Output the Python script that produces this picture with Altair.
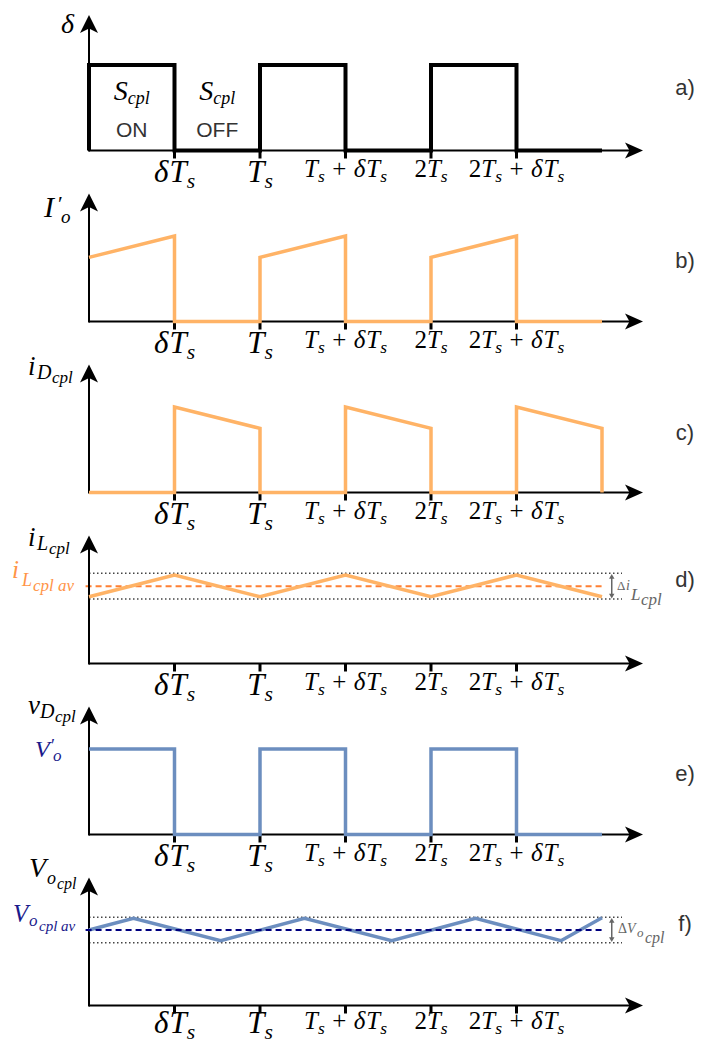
import altair as alt
import pandas as pd

# ---------------- data ----------------
tick_t = [0.5, 1.0, 1.5, 2.0, 2.5]
tick_text = ["δT_s", "T_s", "T_s + δT_s", "2T_s", "2T_s + δT_s"]
tick_big = [True, True, False, False, False]

delta_t = [0, 0, 0.5, 0.5, 1, 1, 1.5, 1.5, 2, 2, 2.5, 2.5, 3]
delta_v = [0, 1, 1, 0, 0, 1, 1, 0, 0, 1, 1, 0, 0]

io_t = [0, 0.5, 0.5, 1, 1, 1.5, 1.5, 2, 2, 2.5, 2.5, 3]
io_v = [0.75, 1, 0, 0, 0.75, 1, 0, 0, 0.75, 1, 0, 0]

id_t = [0, 0.5, 0.5, 1, 1, 1.5, 1.5, 2, 2, 2.5, 2.5, 3, 3]
id_v = [0, 0, 1, 0.75, 0, 0, 1, 0.75, 0, 0, 1, 0.75, 0]

il_t = [0, 0.5, 1, 1.5, 2, 2.5, 3]
il_v = [0.78, 1.035, 0.78, 1.035, 0.78, 1.035, 0.78]
il_avg = 0.903
il_band = [0.754, 1.055]

vd_t = [0, 0.5, 0.5, 1, 1, 1.5, 1.5, 2, 2, 2.5, 2.5, 3]
vd_v = [1, 1, 0, 0, 1, 1, 0, 0, 1, 1, 0, 0]

vo_t = [0, 0.26, 0.77, 1.26, 1.77, 2.26, 2.76, 3.0]
vo_v = [0.883, 1.02, 0.758, 1.02, 0.758, 1.02, 0.758, 1.027]
vo_avg = 0.883
vo_band = [0.734, 1.032]

panel_tags = ["a)", "b)", "c)", "d)", "e)", "f)"]

# ---------------- layout ----------------
W, H = 692, 171
H_LAST = 181
PX_T, PX_V = 171.0, 85.5
ORIGIN_X = 81.0
BASE_Y = 142.5
XDOM = [-ORIGIN_X / PX_T, (W - ORIGIN_X) / PX_T]
X_TIP = (643 - 89) / PX_T
TAG_T = (685 - 89) / PX_T

xs = alt.Scale(domain=XDOM, nice=False, zero=False)
X = alt.X("t:Q", scale=xs, axis=None)


def y_enc(h):
    dom = [-(h - BASE_Y) / PX_V, BASE_Y / PX_V]
    return alt.Y("v:Q", scale=alt.Scale(domain=dom, nice=False, zero=False), axis=None)


cur = {"Y": y_enc(H)}

ORANGE = "#FFB366"
ORANGE_D = "#FF8033"
ORANGE_L = "#FF9447"
BLUE = "#6C8EBF"
NAVY = "#1A1A8C"
GRAY = "#666666"
DARK = "#333333"

UP_PATH = "M0,-1 L1,1 L0,0.5 L-1,1 Z"
RIGHT_PATH = "M1,0 L-1,-0.9 L-0.5,0 L-1,0.9 Z"

W_SERIF = {"T": 0.556, "s": 0.389, "δ": 0.5, "2": 0.5, "+": 0.564, " ": 0.25,
           "c": 0.444, "p": 0.5, "l": 0.278, "a": 0.5, "v": 0.444, "i": 0.278,
           "D": 0.722, "L": 0.556, "o": 0.5, "V": 0.611, "I": 0.333, "S": 0.5,
           "Δ": 0.612, "′": 0.25}
W_SANS = {"a": 0.556, "b": 0.556, "c": 0.5, "d": 0.556, "e": 0.556, "f": 0.278,
          ")": 0.333, "O": 0.778, "N": 0.722, "F": 0.611}

KINDS = {"mi": dict(font="Liberation Serif", fontStyle="italic"),
         "mr": dict(font="Liberation Serif"),
         "sans": dict(font="Liberation Sans")}


def width(text, size, kind):
    table = W_SANS if kind == "sans" else W_SERIF
    return sum(table.get(c, 0.5) for c in text) * size


def put(rows, dx, up, text, size, color, kind="mi", t0=0.0):
    rows.append(dict(t=t0 + dx / PX_T, v=up / PX_V, text=text, size=size,
                     color=color, kind=kind))


def centered(rows, t_c, up, pieces, color):
    widths = [p[1] if p[2] is None else width(p[0], p[1], p[2]) for p in pieces]
    x = -sum(widths) / 2
    for p, w in zip(pieces, widths):
        if p[2] is not None:
            rows.append(dict(t=t_c + x / PX_T, v=(up - p[3]) / PX_V, text=p[0],
                             size=p[1], color=color, kind=p[2]))
        x += w


def tick_label_pieces(label, size):
    out = []
    i = 0
    while i < len(label):
        c = label[i]
        if c == "_":
            out.append((label[i + 1], size * 0.7, "mi", size * 0.2))
            i += 2
            continue
        if c == " ":
            out.append(("", size * 0.3, None, 0))
        elif c in "0123456789+":
            out.append((c, size, "mr", 0))
        else:
            out.append((c, size, "mi", 0))
        i += 1
    return out


def line_layer(ts, vs, color, w, dash=None):
    df = pd.DataFrame({"t": ts, "v": vs, "i": list(range(len(ts)))})
    kw = dict(color=color, strokeWidth=w, strokeCap="butt", strokeJoin="miter")
    if dash:
        kw["strokeDash"] = dash
    return alt.Chart(df).mark_line(**kw).encode(x=X, y=cur["Y"], order=alt.Order("i:Q"))


def seg_layer(rows, color, w, dash=None):
    df = pd.DataFrame(rows, columns=["t", "v", "t2", "v2"])
    kw = dict(color=color, strokeWidth=w, strokeCap="butt")
    if dash:
        kw["strokeDash"] = dash
    return alt.Chart(df).mark_rule(**kw).encode(x=X, y=cur["Y"], x2="t2:Q", y2="v2:Q")


def head_layer(rows, shape, size, color):
    df = pd.DataFrame(rows, columns=["t", "v"])
    return alt.Chart(df).mark_point(shape=shape, size=size, filled=True, color=color,
                                    opacity=1, strokeWidth=0).encode(x=X, y=cur["Y"])


def text_layers(rows):
    df = pd.DataFrame(rows)
    layers = []
    for kind, props in KINDS.items():
        sub = df[df.kind == kind]
        if len(sub) == 0:
            continue
        layers.append(alt.Chart(sub).mark_text(align="left", baseline="alphabetic", **props).encode(
            x=X, y=cur["Y"], text="text:N",
            size=alt.Size("size:Q", scale=None, legend=None),
            color=alt.Color("color:N", scale=None, legend=None)))
    return layers


def delta_arrow(t, lo, hi):
    return [seg_layer([(t, lo + 4 / PX_V, t, hi - 4 / PX_V)], GRAY, 1.5),
            head_layer([(t, hi - 3 / PX_V)], "triangle-up", 30, GRAY),
            head_layer([(t, lo + 3 / PX_V)], "triangle-down", 30, GRAY)]


def band_layer(band):
    return seg_layer([(0, band[0], 3.117, band[0]), (0, band[1], 3.117, band[1])],
                     "#444444", 1.4, [1.5, 2.5])


def panel(idx, make_signal, rows, tip_up, tag_up, make_under=None, make_over=None,
          h=H, lab_big=-31, lab_small=-26):
    cur["Y"] = y_enc(h)
    rows = list(rows)
    for t, lab, big in zip(tick_t, tick_text, tick_big):
        s = 31 if big else 25
        centered(rows, t, lab_big if big else lab_small, tick_label_pieces(lab, s), "#000")
    tag = panel_tags[idx]
    centered(rows, TAG_T, tag_up, [(tag, 22, "sans", 0)], DARK)
    axis = seg_layer([(0, -1 / PX_V, 0, (tip_up - 12) / PX_V),
                      (0, 0, X_TIP - 12 / PX_T, 0)], "black", 2)
    ticks = seg_layer([(t, 0, t, -8 / PX_V) for t in tick_t], "black", 3)
    heads = [head_layer([(0, (tip_up - 9) / PX_V)], UP_PATH, 324, "black"),
             head_layer([(X_TIP - 9 / PX_T, 0)], RIGHT_PATH, 324, "black")]
    under = make_under() if make_under else []
    over = make_over() if make_over else []
    layers = under + [axis, ticks] + make_signal() + over + heads + text_layers(rows)
    return alt.layer(*layers).properties(width=W, height=h)


# ---- panel a ----
ra = []
put(ra, -28, 117.5, "δ", 28, "black")
for tc, word in [(0.25, "ON"), (0.75, "OFF")]:
    centered(ra, tc, 50.5, [("S", 28, "mi", 0), ("cpl", 18, "mi", 4)], "black")
    centered(ra, tc, 13.5, [(word, 21, "sans", 0)], DARK)
pa = panel(0, lambda: [line_layer(delta_t, delta_v, "black", 4)], ra, 135.5, 56)

# ---- panel b ----
rb = []
put(rb, -45, 105, "I", 30, "black")
put(rb, -31, 111, "′", 22, "black", "mr")
put(rb, -28, 99, "o", 19, "black")
pb = panel(1, lambda: [line_layer(io_t, io_v, ORANGE, 3.5)], rb, 128, 53.5)

# ---- panel c ----
rc = []
put(rc, -61, 117.5, "i", 27, "black")
put(rc, -52, 114, "D", 20, "black")
put(rc, -37, 110, "cpl", 17, "black")
pc = panel(2, lambda: [line_layer(id_t, id_v, ORANGE, 3.5)], rc, 128, 52.5)

# ---- panel d ----
rd = []
put(rd, -61, 117.5, "i", 27, "black")
put(rd, -52, 114, "L", 20, "black")
put(rd, -40, 110, "cpl", 17, "black")
put(rd, -77, 85.5, "i", 25, ORANGE_L)
put(rd, -67, 77.5, "L", 18, ORANGE_L)
put(rd, -56, 72.5, "cpl av", 17, ORANGE_L)
put(rd, 528, 73.5, "Δ", 13, GRAY, "mr")
put(rd, 537, 73.5, "i", 14, GRAY)
put(rd, 542, 63.5, "L", 17, GRAY)
put(rd, 552, 58.5, "cpl", 17, GRAY)
pdd = panel(3, lambda: [line_layer(il_t, il_v, ORANGE, 3.5)], rd, 128, 77,
            make_under=lambda: [band_layer(il_band),
                                seg_layer([(-0.02, il_avg, 3.0, il_avg)], ORANGE_D, 2, [6, 4])],
            make_over=lambda: delta_arrow(3.057, il_band[0], il_band[1]))

# ---- panel e ----
re_ = []
put(re_, -61, 121, "v", 27, "black")
put(re_, -49, 116.5, "D", 20, "black")
put(re_, -34, 112.5, "cpl", 17, "black")
put(re_, -54, 77.5, "V", 24, NAVY)
put(re_, -38, 83, "′", 18, NAVY, "mr")
put(re_, -36, 73.5, "o", 17, NAVY)
pe = panel(4, lambda: [line_layer(vd_t, vd_v, BLUE, 3.5)], re_, 128, 53.5)

# ---- panel f ----
rf = []
put(rf, -60, 128.5, "V", 28, "black")
put(rf, -42, 121.5, "o", 18, "black")
put(rf, -32, 116.5, "cpl", 16, "black")
put(rf, -76, 83.5, "V", 25, NAVY)
put(rf, -60, 79.5, "o", 17, NAVY)
put(rf, -50, 74.5, "cpl av", 15, NAVY)
put(rf, 529, 72.5, "Δ", 14, GRAY, "mr")
put(rf, 538, 72.5, "V", 14, GRAY)
put(rf, 548, 69, "o", 13, GRAY)
put(rf, 556, 62.5, "cpl", 16, GRAY)
pf = panel(5, lambda: [line_layer(vo_t, vo_v, BLUE, 3.5)], rf, 128, 74.5,
           make_under=lambda: [band_layer(vo_band)],
           make_over=lambda: [seg_layer([(-0.02, vo_avg, 3.0, vo_avg)], "#00007F", 2, [6, 4])]
           + delta_arrow(3.057, vo_band[0], vo_band[1]),
           h=H_LAST, lab_big=-27, lab_small=-23)

chart = alt.vconcat(pa, pb, pc, pdd, pe, pf, spacing=0, bounds="flush").properties(
    padding=0).configure_view(stroke=None)

chart.save("out.html", embed_options={"renderer": "svg", "actions": False})
